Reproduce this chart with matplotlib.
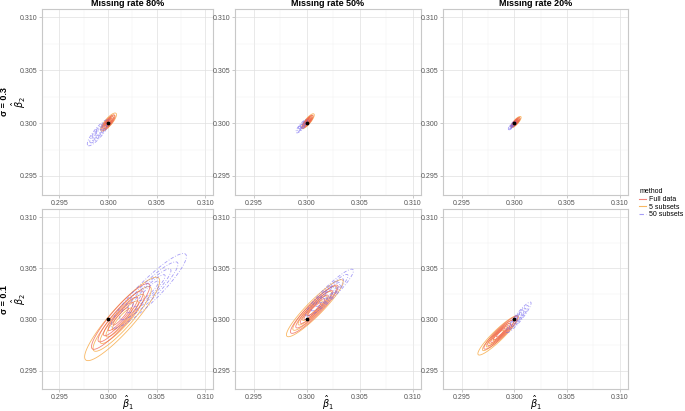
import numpy as np
import matplotlib
matplotlib.use("Agg")
import matplotlib.pyplot as plt
from matplotlib.lines import Line2D

plt.rcParams["font.family"] = ["Liberation Sans", "DejaVu Sans"]

# facet labels
missing_rates = ["Missing rate 80%", "Missing rate 50%", "Missing rate 20%"]
sigmas = ["σ = 0.3", "σ = 0.1"]
methods = ["Full data", "5 subsets", "50 subsets"]

# density summary per panel (row-major: sigma 0.3 row, then sigma 0.1 row)
# centre x, centre y, sd x, sd y, correlation
full_cx = [0.30003, 0.30008, 0.30012, 0.30130, 0.30070, 0.29870]
full_cy = [0.30005, 0.30015, 0.30008, 0.30030, 0.30100, 0.29870]
full_sx = [0.00032, 0.00024, 0.00019, 0.00140, 0.00105, 0.00075]
full_sy = [0.00034, 0.00028, 0.00021, 0.00150, 0.00110, 0.00075]
full_rho = [0.82, 0.84, 0.82, 0.92, 0.93, 0.93]

sub5_cx = [0.30005, 0.30010, 0.30014, 0.30145, 0.30075, 0.29845]
sub5_cy = [0.30010, 0.30018, 0.30010, 0.30005, 0.30110, 0.29845]
sub5_sx = [0.00038, 0.00028, 0.00023, 0.00180, 0.00125, 0.00090]
sub5_sy = [0.00040, 0.00033, 0.00025, 0.00190, 0.00130, 0.00090]
sub5_rho = [0.82, 0.84, 0.82, 0.91, 0.93, 0.93]

sub50_cx = [0.29900, 0.29953, 0.29980, 0.30420, 0.30215, 0.30040]
sub50_cy = [0.29910, 0.29972, 0.29980, 0.30280, 0.30262, 0.30020]
sub50_sx = [0.00053, 0.00026, 0.00018, 0.00180, 0.00105, 0.00055]
sub50_sy = [0.00058, 0.00030, 0.00020, 0.00170, 0.00107, 0.00070]
sub50_rho = [0.86, 0.84, 0.82, 0.92, 0.93, 0.93]

# contour levels as fraction of peak density
level_frac = [0.1, 0.25, 0.45, 0.65, 0.85]

ticks = [0.295, 0.300, 0.305, 0.310]
tick_labels = ["0.295", "0.300", "0.305", "0.310"]
true_beta = (0.300, 0.300)

colors = ["#ef5a4f", "#f7a53c", "#6a5cf0"]
styles = ["-", "-", (0, (4, 2, 1, 2))]
alphas = [0.75, 0.8, 0.6]

fig = plt.figure(figsize=(6.85, 4.11), dpi=100)

col_left = [42, 235, 443]
col_right = [213, 421, 628]
row_top = [9, 209]
row_bot = [195, 389]
W, H = 685, 411

lim = (0.2932, 0.3108)
g = np.linspace(lim[0], lim[1], 400)
X, Y = np.meshgrid(g, g)


def density(cx, cy, sx, sy, rho):
    zx = (X - cx) / sx
    zy = (Y - cy) / sy
    q = (zx ** 2 - 2 * rho * zx * zy + zy ** 2) / (1 - rho ** 2)
    return np.exp(-0.5 * q)


params = [
    (full_cx, full_cy, full_sx, full_sy, full_rho),
    (sub5_cx, sub5_cy, sub5_sx, sub5_sy, sub5_rho),
    (sub50_cx, sub50_cy, sub50_sx, sub50_sy, sub50_rho),
]

for r in range(2):
    for c in range(3):
        i = r * 3 + c
        ax = fig.add_axes([col_left[c] / W, 1 - row_bot[r] / H,
                           (col_right[c] - col_left[c]) / W,
                           (row_bot[r] - row_top[r]) / H])
        ax.set_facecolor("white")
        for m in [1, 0, 2]:
            cx, cy, sx, sy, rho = params[m]
            Z = density(cx[i], cy[i], sx[i], sy[i], rho[i])
            cs = ax.contour(X, Y, Z, levels=level_frac, colors=colors[m],
                            linewidths=0.6, alpha=alphas[m])
            cs.set_linestyle(styles[m])
        ax.scatter([true_beta[0]], [true_beta[1]], s=3, color="black", zorder=5)

        ax.set_xlim(lim)
        ax.set_ylim(lim)
        ax.set_xticks(ticks)
        ax.set_xticklabels(tick_labels)
        ax.set_yticks(ticks)
        ax.set_yticklabels(tick_labels)
        ax.set_xticks([0.2975, 0.3025, 0.3075], minor=True)
        ax.set_yticks([0.2975, 0.3025, 0.3075], minor=True)
        ax.grid(which="major", color="#e0e0e0", linewidth=0.5)
        ax.grid(which="minor", color="#eeeeee", linewidth=0.3)
        ax.set_axisbelow(True)
        ax.tick_params(which="major", length=2, width=0.5, color="#b3b3b3",
                       labelsize=5, labelcolor="#555555", pad=1.5)
        ax.tick_params(which="minor", length=0)
        for sp in ax.spines.values():
            sp.set_color("#c8c8c8")
            sp.set_linewidth(0.8)

        if r == 0:
            ax.set_title(missing_rates[c], fontsize=6.5, fontweight="bold", pad=2)
        if r == 1:
            fig.text((col_left[c] + col_right[c]) / 2 / W, 1 - 403 / H,
                     r"$\hat{\beta}_1$", fontsize=7, ha="center", va="center")
        if c == 0:
            ymid = 1 - ((row_top[r] + row_bot[r]) / 2) / H
            fig.text(19 / W, ymid, r"$\hat{\beta}_2$", rotation=90, fontsize=7,
                     ha="center", va="center")
            fig.text(5 / W, ymid, sigmas[r], rotation=90, fontsize=6.5,
                     fontweight="bold", ha="center", va="center")

handles = [Line2D([0], [0], color=colors[m], linestyle=styles[m], linewidth=0.8,
                  alpha=alphas[m]) for m in range(3)]
leg = fig.legend(handles, methods, title="method", loc="upper left",
                 bbox_to_anchor=(638 / W, 1 - 187 / H), frameon=False,
                 fontsize=5, title_fontsize=5, handlelength=1.0,
                 handletextpad=0.4, labelspacing=0.1, borderpad=0.2,
                 borderaxespad=0)
leg._legend_box.align = "left"

fig.savefig("out.png", dpi=100)
